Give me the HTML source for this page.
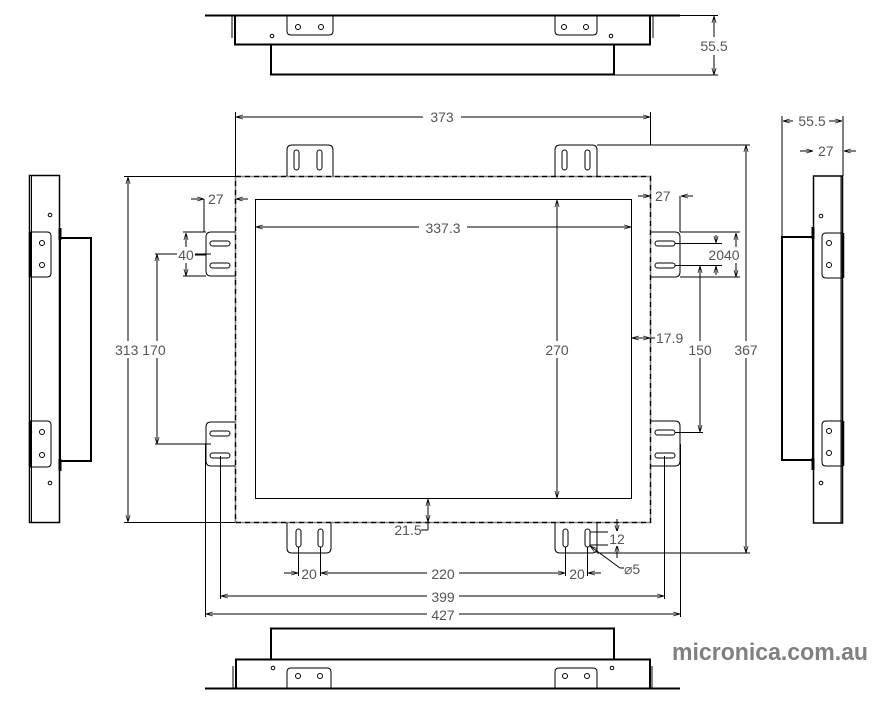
<!DOCTYPE html>
<html><head><meta charset="utf-8">
<style>
html,body{margin:0;padding:0;background:#fff;}
svg{display:block;}
text{font-family:"Liberation Sans",sans-serif;fill:#555;font-size:14px;}
</style></head>
<body>
<svg width="877" height="710" viewBox="0 0 877 710" xmlns="http://www.w3.org/2000/svg">
<defs>
<marker id="a" viewBox="0 0 10 10" refX="10" refY="5" markerWidth="7" markerHeight="7" orient="auto-start-reverse" markerUnits="userSpaceOnUse">
<path d="M0,2 L10,5 L0,8" fill="none" stroke="#000" stroke-width="1"/>
</marker>
</defs>
<g fill="none" stroke="#000" stroke-width="1">

<!-- TOP VIEW -->
<line x1="205" y1="15.5" x2="680" y2="15.5" stroke-width="2"/>
<rect x="235" y="15.5" width="415" height="29" stroke-width="2"/>
<line x1="232" y1="15" x2="232" y2="38"/>
<line x1="653" y1="15" x2="653" y2="38"/>
<rect x="271" y="44.5" width="343" height="30" stroke-width="2"/>
<path d="M287,15 V31 Q287,35 291,35 H329 Q333,35 333,31 V15"/>
<path d="M555,15 V31 Q555,35 559,35 H593 Q597,35 597,31 V15"/>
<circle cx="298" cy="27" r="2.5"/><circle cx="321" cy="27" r="2.5"/>
<circle cx="564" cy="27" r="2.5"/><circle cx="586" cy="27" r="2.5"/>
<circle cx="272" cy="36" r="1.8"/><circle cx="611" cy="36" r="1.8"/>
<line x1="614" y1="75" x2="718" y2="75"/>
<line x1="650" y1="15.5" x2="718" y2="15.5"/>
<line x1="714" y1="16" x2="714" y2="75" marker-start="url(#a)" marker-end="url(#a)"/>

<!-- MAIN FRONT VIEW -->
<rect x="235.5" y="176.5" width="415" height="346" stroke-width="1.5" stroke-dasharray="6,1,1,1"/>
<rect x="255.5" y="199.5" width="376" height="299"/>
<!-- top tabs -->
<path d="M287,176 V150 Q287,145 292,145 H328 Q333,145 333,150 V176"/>
<path d="M555,176 V150 Q555,145 560,145 H592 Q597,145 597,150 V176"/>
<rect x="294" y="150" width="5" height="20" rx="2.5"/><rect x="317" y="150" width="5" height="20" rx="2.5"/>
<rect x="562" y="150" width="5" height="20" rx="2.5"/><rect x="585" y="150" width="5" height="20" rx="2.5"/>
<!-- bottom tabs -->
<path d="M287,523 V548 Q287,553 292,553 H326 Q331,553 331,548 V523"/>
<path d="M555,523 V548 Q555,553 560,553 H592 Q597,553 597,548 V523"/>
<rect x="296" y="529" width="5" height="18" rx="2.5"/><rect x="318" y="529" width="5" height="18" rx="2.5"/>
<rect x="563" y="529" width="5" height="18" rx="2.5"/><rect x="585" y="529" width="5" height="18" rx="2.5"/>
<!-- left tabs -->
<path d="M235,232 H211 Q206,232 206,237 V271 Q206,276 211,276 H235"/>
<path d="M235,422 H211 Q206,422 206,427 V461 Q206,466 211,466 H235"/>
<rect x="210" y="241" width="20" height="5" rx="2.5"/><rect x="210" y="263" width="20" height="5" rx="2.5"/>
<rect x="210" y="431" width="20" height="5" rx="2.5"/><rect x="210" y="453" width="20" height="5" rx="2.5"/>
<!-- right tabs -->
<path d="M650,232 H675 Q680,232 680,237 V272 Q680,277 675,277 H650"/>
<path d="M650,421 H675 Q680,421 680,426 V461 Q680,466 675,466 H650"/>
<rect x="655" y="241" width="20" height="5" rx="2.5"/><rect x="655" y="263" width="20" height="5" rx="2.5"/>
<rect x="655" y="430" width="20" height="5" rx="2.5"/><rect x="655" y="453" width="20" height="5" rx="2.5"/>

<!-- 373 -->
<line x1="235.5" y1="112" x2="235.5" y2="176"/>
<line x1="650.5" y1="112" x2="650.5" y2="145"/>
<line x1="236" y1="117" x2="650" y2="117" marker-start="url(#a)" marker-end="url(#a)"/>
<!-- 367 -->
<line x1="597" y1="145" x2="750" y2="145"/>
<line x1="597" y1="553" x2="750" y2="553"/>
<line x1="746" y1="145" x2="746" y2="553" marker-start="url(#a)" marker-end="url(#a)"/>
<!-- 313 -->
<line x1="124" y1="176.5" x2="235" y2="176.5"/>
<line x1="124" y1="522.5" x2="235" y2="522.5"/>
<line x1="128" y1="177" x2="128" y2="522" marker-start="url(#a)" marker-end="url(#a)"/>
<!-- 170 -->
<line x1="155" y1="254" x2="211" y2="254"/>
<line x1="155" y1="444" x2="211" y2="444"/>
<line x1="157" y1="254" x2="157" y2="444" marker-start="url(#a)" marker-end="url(#a)"/>
<!-- 40 left -->
<line x1="183" y1="232" x2="206" y2="232"/>
<line x1="183" y1="276" x2="206" y2="276"/>
<line x1="186" y1="233" x2="186" y2="276" marker-start="url(#a)" marker-end="url(#a)"/>
<line x1="186" y1="255" x2="206" y2="255"/>
<!-- 27 left -->
<line x1="204" y1="199" x2="204" y2="232"/>
<line x1="191" y1="199" x2="204" y2="199" marker-end="url(#a)"/>
<line x1="248" y1="199" x2="236" y2="199" marker-end="url(#a)"/>
<!-- 27 right -->
<line x1="680" y1="196" x2="680" y2="232"/>
<line x1="638" y1="196" x2="650" y2="196" marker-end="url(#a)"/>
<line x1="693" y1="196" x2="681" y2="196" marker-end="url(#a)"/>
<!-- 2040 -->
<line x1="675" y1="243.5" x2="722" y2="243.5"/>
<line x1="675" y1="265.5" x2="722" y2="265.5"/>
<line x1="680" y1="232" x2="740" y2="232"/>
<line x1="680" y1="277" x2="740" y2="277"/>
<line x1="716" y1="235" x2="716" y2="243" marker-end="url(#a)"/>
<line x1="716" y1="275" x2="716" y2="266" marker-end="url(#a)"/>
<line x1="736" y1="233" x2="736" y2="277" marker-start="url(#a)" marker-end="url(#a)"/>
<!-- 150 -->
<line x1="675" y1="432.5" x2="703" y2="432.5"/>
<line x1="700" y1="266" x2="700" y2="432" marker-start="url(#a)" marker-end="url(#a)"/>
<!-- 17.9 -->
<line x1="632" y1="338" x2="650" y2="338" marker-start="url(#a)" marker-end="url(#a)"/>
<line x1="650" y1="338" x2="655" y2="338"/>
<!-- 270 -->
<line x1="557" y1="200" x2="557" y2="498" marker-start="url(#a)" marker-end="url(#a)"/>
<!-- 337.3 -->
<line x1="256" y1="227" x2="631" y2="227" marker-start="url(#a)" marker-end="url(#a)"/>
<!-- 21.5 -->
<line x1="428" y1="499" x2="428" y2="522" marker-start="url(#a)" marker-end="url(#a)"/>
<line x1="428" y1="522" x2="428" y2="530"/><line x1="421" y1="530" x2="428" y2="530"/>
<!-- 12 -->
<line x1="590" y1="532" x2="620" y2="532"/>
<line x1="590" y1="545" x2="620" y2="545"/>
<line x1="617" y1="519" x2="617" y2="532" marker-end="url(#a)"/>
<line x1="617" y1="558" x2="617" y2="545" marker-end="url(#a)"/>
<line x1="597" y1="553" x2="597" y2="522"/>
<!-- diameter 5 leader -->
<line x1="620" y1="568" x2="590" y2="546" marker-end="url(#a)"/>
<line x1="620" y1="568" x2="624" y2="568"/>
<!-- 20 220 20 -->
<line x1="298.5" y1="547" x2="298.5" y2="576"/>
<line x1="320.5" y1="547" x2="320.5" y2="576"/>
<line x1="565.5" y1="547" x2="565.5" y2="576"/>
<line x1="587.5" y1="547" x2="587.5" y2="576"/>
<line x1="284" y1="573" x2="298" y2="573" marker-end="url(#a)"/>
<line x1="321" y1="573" x2="565" y2="573" marker-start="url(#a)" marker-end="url(#a)"/>
<line x1="601" y1="573" x2="588" y2="573" marker-end="url(#a)"/>
<!-- 399 -->
<line x1="220.5" y1="456" x2="220.5" y2="599"/>
<line x1="664.5" y1="456" x2="664.5" y2="599"/>
<line x1="221" y1="596" x2="664" y2="596" marker-start="url(#a)" marker-end="url(#a)"/>
<!-- 427 -->
<line x1="205.5" y1="444" x2="205.5" y2="617"/>
<line x1="680.5" y1="444" x2="680.5" y2="617"/>
<line x1="206" y1="614" x2="680" y2="614" marker-start="url(#a)" marker-end="url(#a)"/>

<!-- LEFT SIDE VIEW -->
<rect x="29.5" y="175.5" width="30" height="347" stroke-width="1.5"/>
<line x1="31.5" y1="176" x2="31.5" y2="522"/>
<rect x="60" y="238" width="31" height="223" stroke-width="2"/>
<line x1="60" y1="228" x2="60" y2="240" stroke-width="3"/>
<line x1="60" y1="459" x2="60" y2="471" stroke-width="3"/>
<path d="M30,232 H47 Q51,232 51,236 V273 Q51,277 47,277 H30" />
<line x1="30" y1="232" x2="30" y2="277" stroke-width="2.5"/>
<path d="M30,421 H47 Q51,421 51,425 V463 Q51,467 47,467 H30" />
<line x1="30" y1="421" x2="30" y2="467" stroke-width="2.5"/>
<circle cx="42" cy="243" r="2.5"/><circle cx="42" cy="265" r="2.5"/>
<circle cx="42" cy="432" r="2.5"/><circle cx="42" cy="455" r="2.5"/>
<circle cx="50" cy="215" r="1.8"/><circle cx="50" cy="483" r="1.8"/>

<!-- RIGHT SIDE VIEW -->
<rect x="813.5" y="176" width="29" height="347" stroke-width="1.5"/>
<line x1="841" y1="176" x2="841" y2="523"/>
<rect x="782" y="237" width="31" height="223" stroke-width="2"/>
<line x1="813" y1="227" x2="813" y2="239" stroke-width="3"/>
<line x1="813" y1="458" x2="813" y2="470" stroke-width="3"/>
<path d="M843,233 H826 Q822,233 822,237 V274 Q822,278 826,278 H843"/>
<line x1="843" y1="233" x2="843" y2="278" stroke-width="2.5"/>
<path d="M843,421 H826 Q822,421 822,425 V462 Q822,466 826,466 H843"/>
<line x1="843" y1="421" x2="843" y2="466" stroke-width="2.5"/>
<circle cx="829" cy="243" r="2.5"/><circle cx="829" cy="265" r="2.5"/>
<circle cx="829" cy="431" r="2.5"/><circle cx="829" cy="453" r="2.5"/>
<circle cx="821" cy="216" r="1.8"/><circle cx="821" cy="483" r="1.8"/>
<line x1="782" y1="116" x2="782" y2="237"/>
<line x1="843" y1="116" x2="843" y2="176"/>
<line x1="783" y1="121" x2="842" y2="121" marker-start="url(#a)" marker-end="url(#a)"/>
<line x1="800" y1="151" x2="813" y2="151" marker-end="url(#a)"/>
<line x1="856" y1="151" x2="844" y2="151" marker-end="url(#a)"/>

<!-- BOTTOM VIEW -->
<line x1="205" y1="688.5" x2="680" y2="688.5" stroke-width="2"/>
<rect x="236" y="659.5" width="414" height="29" stroke-width="2"/>
<line x1="233" y1="666" x2="233" y2="689"/>
<line x1="652" y1="666" x2="652" y2="689"/>
<rect x="271" y="628.5" width="343" height="31" stroke-width="2"/>
<path d="M287,689 V672 Q287,668 291,668 H327 Q331,668 331,672 V689"/>
<path d="M555,689 V672 Q555,668 559,668 H593 Q597,668 597,672 V689"/>
<circle cx="298" cy="676" r="2.5"/><circle cx="320" cy="676" r="2.5"/>
<circle cx="565" cy="676" r="2.5"/><circle cx="587" cy="676" r="2.5"/>
<circle cx="273" cy="668" r="1.8"/><circle cx="612" cy="668" r="1.8"/>
</g>

<!-- labels -->
<g>
<rect x="423" y="108" width="38" height="16" fill="#fff"/>
<text x="442" y="122" text-anchor="middle">373</text>
<rect x="696" y="37" width="36" height="18" fill="#fff"/>
<text x="714" y="51" text-anchor="middle">55.5</text>
<rect x="419" y="219" width="48" height="16" fill="#fff"/>
<text x="443" y="233" text-anchor="middle">337.3</text>
<rect x="541" y="341" width="32" height="17" fill="#fff"/>
<text x="557" y="355" text-anchor="middle">270</text>
<text x="656" y="343">17.9</text>
<rect x="688" y="341" width="26" height="17" fill="#fff"/>
<text x="700" y="355" text-anchor="middle">150</text>
<rect x="732" y="341" width="28" height="17" fill="#fff"/>
<text x="746" y="355" text-anchor="middle">367</text>
<rect x="114" y="341" width="56" height="17" fill="#fff"/>
<text x="115" y="355">313 170</text>
<rect x="177" y="247" width="18" height="16" fill="#fff"/>
<text x="186" y="260" text-anchor="middle">40</text>
<text x="208" y="204">27</text>
<text x="655" y="201">27</text>
<rect x="704" y="247" width="40" height="16" fill="#fff"/>
<text x="724" y="260" text-anchor="middle">2040</text>
<text x="408" y="535" text-anchor="middle">21.5</text>
<rect x="608" y="531" width="18" height="15" fill="#fff"/>
<text x="617" y="544" text-anchor="middle">12</text>
<text x="624" y="574">⌀5</text>
<text x="309" y="579" text-anchor="middle">20</text>
<rect x="427" y="566" width="32" height="16" fill="#fff"/>
<text x="443" y="579" text-anchor="middle">220</text>
<text x="577" y="579" text-anchor="middle">20</text>
<rect x="427" y="589" width="32" height="15" fill="#fff"/>
<text x="443" y="602" text-anchor="middle">399</text>
<rect x="427" y="607" width="32" height="15" fill="#fff"/>
<text x="443" y="620" text-anchor="middle">427</text>
<rect x="793" y="113" width="36" height="15" fill="#fff"/>
<text x="812" y="126" text-anchor="middle">55.5</text>
<text x="818" y="156">27</text>
<text x="672" y="660" textLength="196" lengthAdjust="spacingAndGlyphs" style="font-size:24px;font-weight:bold;fill:#808080">micronica.com.au</text>
</g>
</svg>
</body></html>
